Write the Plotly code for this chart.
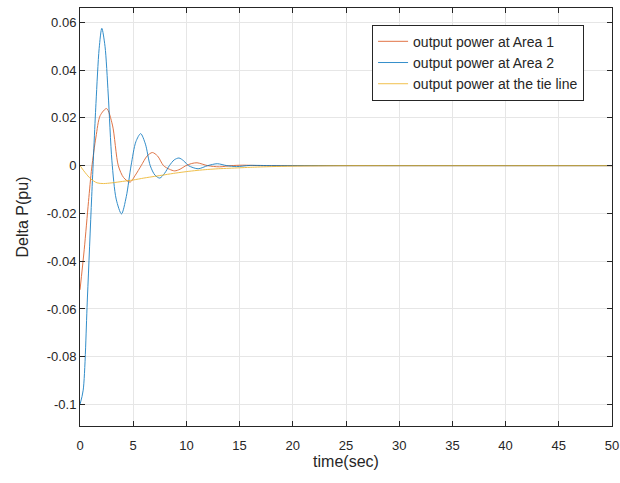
import plotly.graph_objects as go

# Area 1 frequency-control response (output power deviation, pu)
t_area1 = [0, 0.4, 0.8, 1.1, 1.5, 1.9, 2.5, 3.05, 3.6, 4.1, 4.7, 5.2, 5.75, 6.3, 6.8,
           7.3, 7.85, 8.4, 8.9, 9.4, 9.95, 10.5, 11.0, 12.0, 13.1, 14.2, 15.3, 17, 20,
           25, 30, 35, 40, 45, 50]
p_area1 = [-0.052, -0.035, -0.015, -0.001, 0.012, 0.021, 0.0239, 0.017, 0.0, -0.005,
           -0.0069, -0.004, 0.0, 0.004, 0.0055, 0.004, 0.0, -0.0015, -0.0022, -0.0015,
           0.0, 0.0009, 0.0012, 0.0, -0.0005, 0.0, 0.0002, 0.0, 0.0,
           0.0, 0.0, 0.0, 0.0, 0.0, 0.0]

# Area 2 response
t_area2 = [0, 0.3, 0.7, 1.1, 1.5, 1.8, 2.05, 2.35, 2.65, 3.0, 3.4, 3.9, 4.35, 4.8, 5.25,
           5.7, 6.15, 6.6, 7.05, 7.5, 7.95, 8.4, 8.85, 9.3, 9.75, 10.2, 11.1, 12.0, 12.9,
           13.8, 14.7, 16, 18, 20, 25, 30, 35, 40, 45, 50]
p_area2 = [-0.100, -0.094, -0.055, -0.013, 0.026, 0.049, 0.0575, 0.050, 0.030, 0.002,
           -0.014, -0.0202, -0.013, 0.0, 0.010, 0.0134, 0.009, 0.0, -0.0040, -0.0052,
           -0.0032, 0.0, 0.0024, 0.0032, 0.0020, 0.0, -0.0013, 0.0, 0.0008,
           0.0, -0.0004, 0.0001, 0.0, 0.0, 0.0, 0.0, 0.0, 0.0, 0.0, 0.0]

# Tie-line power flow
t_tie = [0, 0.5, 1.0, 1.6, 2.2, 3.0, 4.0, 5.0, 6.0, 7.0, 8.0, 9.0, 10, 11, 12, 13, 14,
         15, 16, 18, 20, 25, 30, 35, 40, 45, 50]
p_tie = [0.0, -0.003, -0.0055, -0.0072, -0.0075, -0.0072, -0.0066, -0.0060, -0.0052,
         -0.0045, -0.0038, -0.0031, -0.0025, -0.0020, -0.0016, -0.0013, -0.0011,
         -0.0009, -0.0007, -0.0004, -0.0002, 0.0, 0.0, 0.0, 0.0, 0.0, 0.0]

x_ticks = [0, 5, 10, 15, 20, 25, 30, 35, 40, 45, 50]
y_ticks = [-0.1, -0.08, -0.06, -0.04, -0.02, 0, 0.02, 0.04, 0.06]
y_tick_text = ["-0.1", "-0.08", "-0.06", "-0.04", "-0.02", "0", "0.02", "0.04", "0.06"]

series = [
    ("output power at Area 1", t_area1, p_area1, "#D95319"),
    ("output power at Area 2", t_area2, p_area2, "#0072BD"),
    ("output power at the tie line", t_tie, p_tie, "#EDB120"),
]

fig = go.Figure()
for name, t, p, color in series:
    fig.add_trace(go.Scatter(
        x=t, y=p, name=name, mode="lines", opacity=0.8,
        line=dict(color=color, width=1, shape="spline", smoothing=0.8),
    ))

axis_common = dict(
    showline=True, linecolor="#262626", linewidth=1, mirror="ticks",
    ticks="inside", ticklen=5, tickcolor="#262626",
    showgrid=True, gridcolor="#e6e6e6", gridwidth=1, zeroline=False,
    automargin=False,
    tickfont=dict(family="Liberation Sans, Arial", size=13, color="#262626"),
)

fig.update_layout(
    width=620, height=483,
    margin=dict(l=80, r=8, t=8, b=57),
    paper_bgcolor="white", plot_bgcolor="white",
    font=dict(family="Liberation Sans, Arial", color="#262626"),
    xaxis=dict(range=[0, 50], tickvals=x_ticks, ticklabelstandoff=7,
               title=dict(text="time(sec)", font=dict(size=16), standoff=3),
               **axis_common),
    yaxis=dict(range=[-0.109, 0.066], tickvals=y_ticks, ticktext=y_tick_text,
               title=dict(text="Delta P(pu)", font=dict(size=16), standoff=14),
               **axis_common),
    legend=dict(x=0.549, y=0.96, xanchor="left", yanchor="top",
                bordercolor="#262626", borderwidth=1, bgcolor="white",
                font=dict(family="Liberation Sans, Arial", size=14, color="#262626"),
                tracegroupgap=0),
    showlegend=True,
)

fig.write_html("out.html")
